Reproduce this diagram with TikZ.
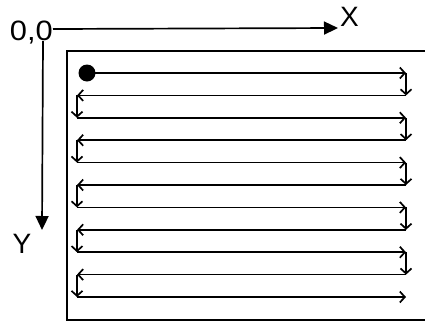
\documentclass[tikz,border=0pt]{standalone}
\usepackage{fontspec}
\setmainfont{Liberation Sans}
\usetikzlibrary{arrows.meta}
\begin{document}
\begin{tikzpicture}[x=1pt,y=-1pt,
  axis/.style={line width=1.7pt,-{Triangle[length=14pt,width=13pt]}},
  trail/.style={line width=1.7pt,-{Straight Barb[length=5pt,width=11pt]}},
  lbl/.style={font=\fontsize{28}{28}\selectfont,inner sep=0pt}]
\useasboundingbox (0,0) rectangle (425,322);
\fill[white] (0,0) rectangle (425,322);
% axes
\node[lbl,xscale=1.1,anchor=east] (origin) at (53,33) {0,0};
\coordinate (O) at (43,29);
\coordinate (xend) at (338,28);
\coordinate (yend) at (42,230);
\node[lbl,anchor=west] (X) at (340,17) {X};
\node[lbl] (Y) at (22,244) {Y};
\draw[axis] (origin.east |- O) -- (xend);
\draw[axis] (43,41) -- (yend);
% work area
\draw[line width=1.7pt] (440,51) -- (67,51) -- (67,320) -- (440,320);
% start point
\node[circle,fill=black,minimum size=17pt,inner sep=0pt] (start) at (87,73) {};
\foreach \i in {1,...,11}{
  \pgfmathsetmacro{\yy}{73+22.4*(\i-1)}
  \coordinate (L\i) at (77,\yy);
  \coordinate (R\i) at (406,\yy);
}
\draw[trail] (start.center) -- (R1);
\foreach \i/\j in {1/2,3/4,5/6,7/8,9/10}{
  \draw[trail] (R\i) -- (R\j);
  \draw[trail] (R\j) -- (L\j);
}
\foreach \i/\j in {2/3,4/5,6/7,8/9,10/11}{
  \draw[trail] (L\i) -- (L\j);
  \draw[trail] (L\j) -- (R\j);
}
\end{tikzpicture}
\end{document}
